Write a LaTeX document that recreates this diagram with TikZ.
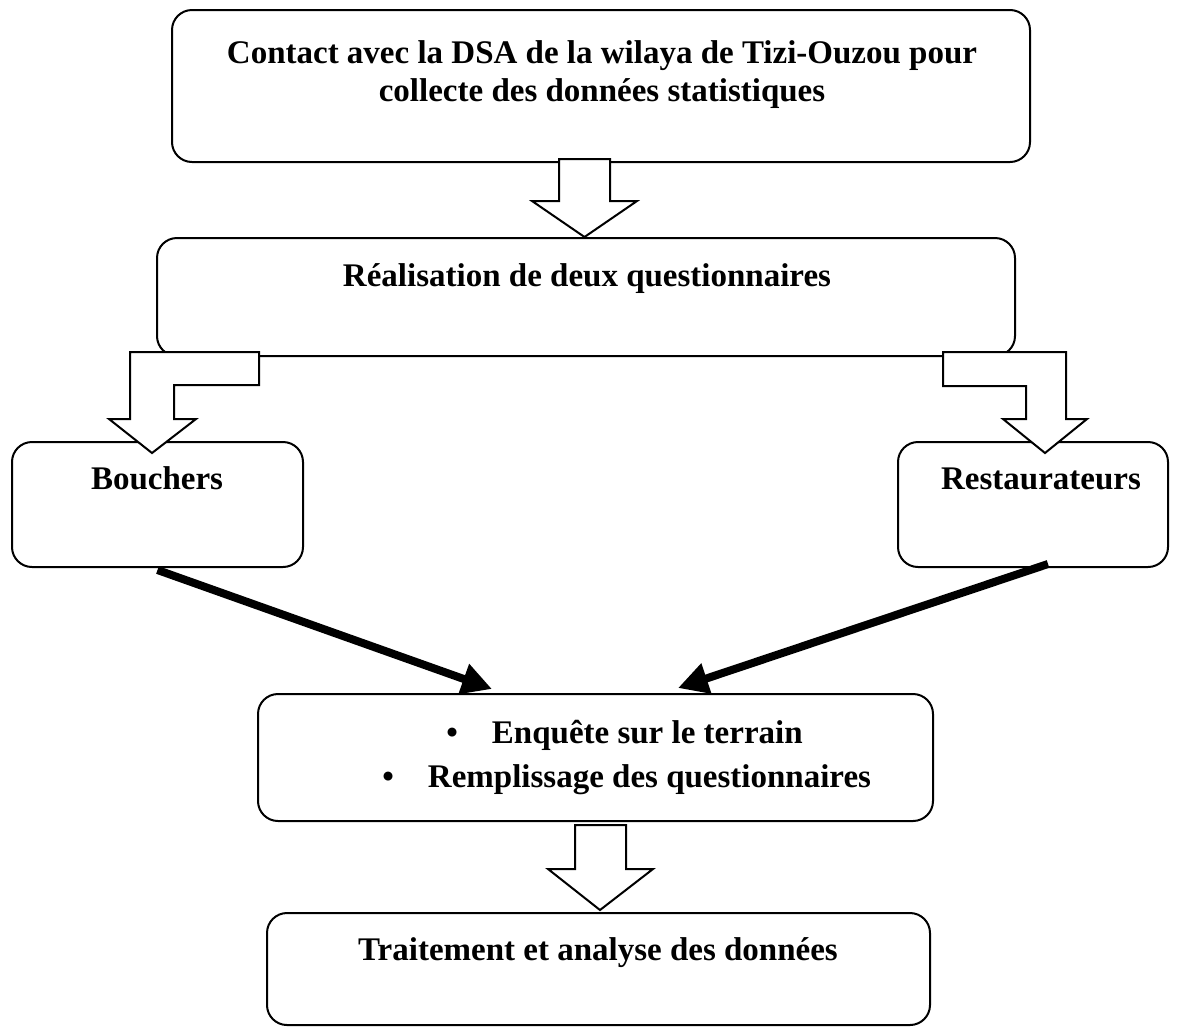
\documentclass[tikz,border=0pt]{standalone}
\usepackage{fontspec}
\setmainfont{Liberation Serif}
\usetikzlibrary{arrows.meta,calc}

\begin{document}
\begin{tikzpicture}[x=0.5pt,y=-0.5pt,
	boite/.style={draw, line width=1pt, rounded corners=10pt, inner sep=0pt},
	texte/.style={font=\fontsize{16.5}{19}\selectfont\bfseries, inner sep=0pt},
	creuse/.style={draw, fill=white, line width=1pt, line join=miter},
	epaisse/.style={line width=4pt, -{Triangle[length=15pt,width=15pt]}}]
		\useasboundingbox (0,0) rectangle (1181,1034);
		% les boites
		\node[boite, minimum width=429pt, minimum height=76pt] (contact) at (601,86) {};
		\node[boite, minimum width=429pt, minimum height=59pt] (realis) at (586,297) {};
		\node[boite, minimum width=145.5pt, minimum height=62.5pt] (bouch) at (157.5,504.5) {};
		\node[boite, minimum width=135pt, minimum height=62.5pt] (resto) at (1033,504.5) {};
		\node[boite, minimum width=337.5pt, minimum height=63.5pt] (enq) at (595.5,757.5) {};
		\node[boite, minimum width=331.5pt, minimum height=56pt] (trait) at (598.5,969) {};
		% les textes
		\node[texte, anchor=north, align=center] (contacttxt) at (602,40) {Contact avec la DSA de la wilaya de Tizi-Ouzou pour\\collecte des données statistiques};
		\node[texte, anchor=base] (realistxt) at (587,286) {Réalisation de deux questionnaires};
		\node[texte, anchor=base] (bouchtxt) at (157,489) {Bouchers};
		\node[texte, anchor=base] (restotxt) at (1041,489) {Restaurateurs};
		\node[texte, anchor=base west] (enqtxt1) at (446,743) {•\hspace{17pt}Enquête sur le terrain};
		\node[texte, anchor=base west] (enqtxt2) at (382,787) {•\hspace{17pt}Remplissage des questionnaires};
		\node[texte, anchor=base] (traittxt) at (598,960) {Traitement et analyse des données};
		% fleches creuses
		\draw[creuse] (559,159) -- (610,159) -- (610,201) -- (637,201) -- (584.5,237) -- (532,201) -- (559,201) -- cycle;
		\draw[creuse] (130,352) -- (259,352) -- (259,385) -- (174,385) -- (174,419) -- (196,419) -- (152,453) -- (109,419) -- (130,419) -- cycle;
		\draw[creuse] (943,352) -- (1066,352) -- (1066,419) -- (1087,419) -- (1045,453) -- (1003,419) -- (1026,419) -- (1026,386) -- (943,386) -- cycle;
		\draw[creuse] (575,825) -- (626,825) -- (626,869) -- (653,869) -- (600,910) -- (548,869) -- (575,869) -- cycle;
		% fleches pleines
		\coordinate (gauche) at (492,689);
		\coordinate (droite) at (678,688);
		\draw[epaisse] ($(bouch.south)+(0,2)$) -- (gauche);
		\draw[epaisse] ($(resto.south)+(15,-4)$) -- (droite);
\end{tikzpicture}
\end{document}
